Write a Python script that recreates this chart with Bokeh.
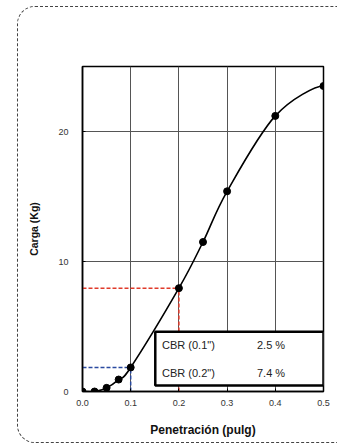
from bokeh.plotting import figure
from bokeh.models import Range1d, FixedTicker, InlineStyleSheet
from bokeh.core.properties import value
from bokeh.embed import file_html
from bokeh.resources import INLINE
import numpy as np

# data
penetracion = [0.0, 0.025, 0.05, 0.075, 0.1, 0.2, 0.25, 0.3, 0.4, 0.5]
carga = [0.0, 0.0, 0.28, 0.92, 1.85, 7.95, 11.5, 15.4, 21.2, 23.5]
x_ticks = [0.0, 0.1, 0.2, 0.3, 0.4, 0.5]
x_tick_labels = ["0.0", "0.1", "0.2", "0.3", "0.4", "0.5"]
y_ticks = [0, 10, 20]
cbr_labels = ['CBR (0.1")', 'CBR (0.2")']
cbr_values = ["2.5 %", "7.4 %"]
ref_x = [0.1, 0.2]
ref_y = [1.85, 7.95]
ref_colors = ["#2a4aa0", "#e03a2a"]

FONT = "Liberation Sans"

p = figure(width=337, height=448, output_backend="svg", toolbar_location=None,
           x_range=Range1d(0, 0.5), y_range=Range1d(0, 25))
p.min_border_left = 82
p.min_border_right = 14
p.min_border_top = 66
p.min_border_bottom = 57
p.background_fill_color = "white"
p.border_fill_color = "white"
p.outline_line_color = "black"
p.outline_line_width = 1.5

p.xaxis.ticker = FixedTicker(ticks=x_ticks)
p.xaxis.major_label_overrides = {t: l for t, l in zip(x_ticks, x_tick_labels)}
p.yaxis.ticker = FixedTicker(ticks=y_ticks)
for ax in (p.xaxis, p.yaxis):
    ax.axis_line_color = "black"
    ax.axis_line_width = 1.5
    ax.major_tick_out = 0
    ax.major_tick_in = 3
    ax.minor_tick_out = 0
    ax.minor_tick_in = 0
    ax.major_label_text_font = FONT
    ax.major_label_text_font_size = "9px"
    ax.major_label_text_color = "#333"
    ax.axis_label_text_font = FONT
    ax.axis_label_text_font_style = "bold"
    ax.axis_label_text_color = "#111"
p.xaxis.axis_label = "Penetración (pulg)"
p.yaxis.axis_label = "Carga (Kg)"
p.xaxis.axis_label_text_font_size = "12px"
p.yaxis.axis_label_text_font_size = "10.5px"
p.xaxis.major_label_standoff = 8
p.xaxis.axis_label_standoff = 14
p.yaxis.major_label_standoff = 14
p.yaxis.axis_label_standoff = 15

p.xgrid.grid_line_color = "#555"
p.xgrid.grid_line_width = 1
p.ygrid.grid_line_color = "#555"
p.ygrid.grid_line_width = 1

# reference dashed lines
for rx, ry, c in zip(ref_x, ref_y, ref_colors):
    p.line([0, rx], [ry, ry], line_color=c, line_dash="4 2", line_width=1.5)
    p.line([rx, rx], [0, ry], line_color=c, line_dash="4 2", line_width=1.5)

# smooth curve (Catmull-Rom through the data points, drawn as beziers)
xs = np.array(penetracion)
ys = np.array(carga)
n = len(xs)
x0, y0, x1, y1, cx0, cy0, cx1, cy1 = [], [], [], [], [], [], [], []
for i in range(n - 1):
    xm = xs[i - 1] if i > 0 else xs[i]
    ym = ys[i - 1] if i > 0 else ys[i]
    xp = xs[i + 2] if i + 2 < n else xs[i + 1]
    yp = ys[i + 2] if i + 2 < n else ys[i + 1]
    x0.append(xs[i]); y0.append(ys[i]); x1.append(xs[i + 1]); y1.append(ys[i + 1])
    cx0.append(xs[i] + (xs[i + 1] - xm) / 6); cy0.append(ys[i] + (ys[i + 1] - ym) / 6)
    cx1.append(xs[i + 1] - (xp - xs[i]) / 6); cy1.append(ys[i + 1] - (yp - ys[i]) / 6)
cy1[-1] = ys[-1]
p.bezier(x0=x0, y0=y0, x1=x1, y1=y1, cx0=cx0, cy0=cy0, cx1=cx1, cy1=cy1,
         line_color="black", line_width=1.6)
p.scatter(penetracion, carga, size=7, color="black")

# CBR table box
p.quad(left=[0.151], right=[0.5], bottom=[0.46], top=[4.6],
       fill_color="white", line_color="black", line_width=2.5)
p.text(x=[0.165, 0.165], y=[3.54, 1.46], text=cbr_labels, text_font=value(FONT),
       text_font_size="11px", text_baseline="middle", text_color="#222")
p.text(x=[0.362, 0.362], y=[3.54, 1.46], text=cbr_values, text_font=value(FONT),
       text_font_size="11px", text_baseline="middle", text_color="#222")

# outer rounded dashed border around the page
p.stylesheets = [InlineStyleSheet(css="""
:host { position: relative; }
:host::after { content: ''; position: absolute; left: 17px; top: 6px;
  width: 340px; height: 437px; border: 1.2px dashed #444; border-radius: 18px;
  pointer-events: none; box-sizing: border-box; }
""")]

open("out.html", "w").write(file_html(p, INLINE))
